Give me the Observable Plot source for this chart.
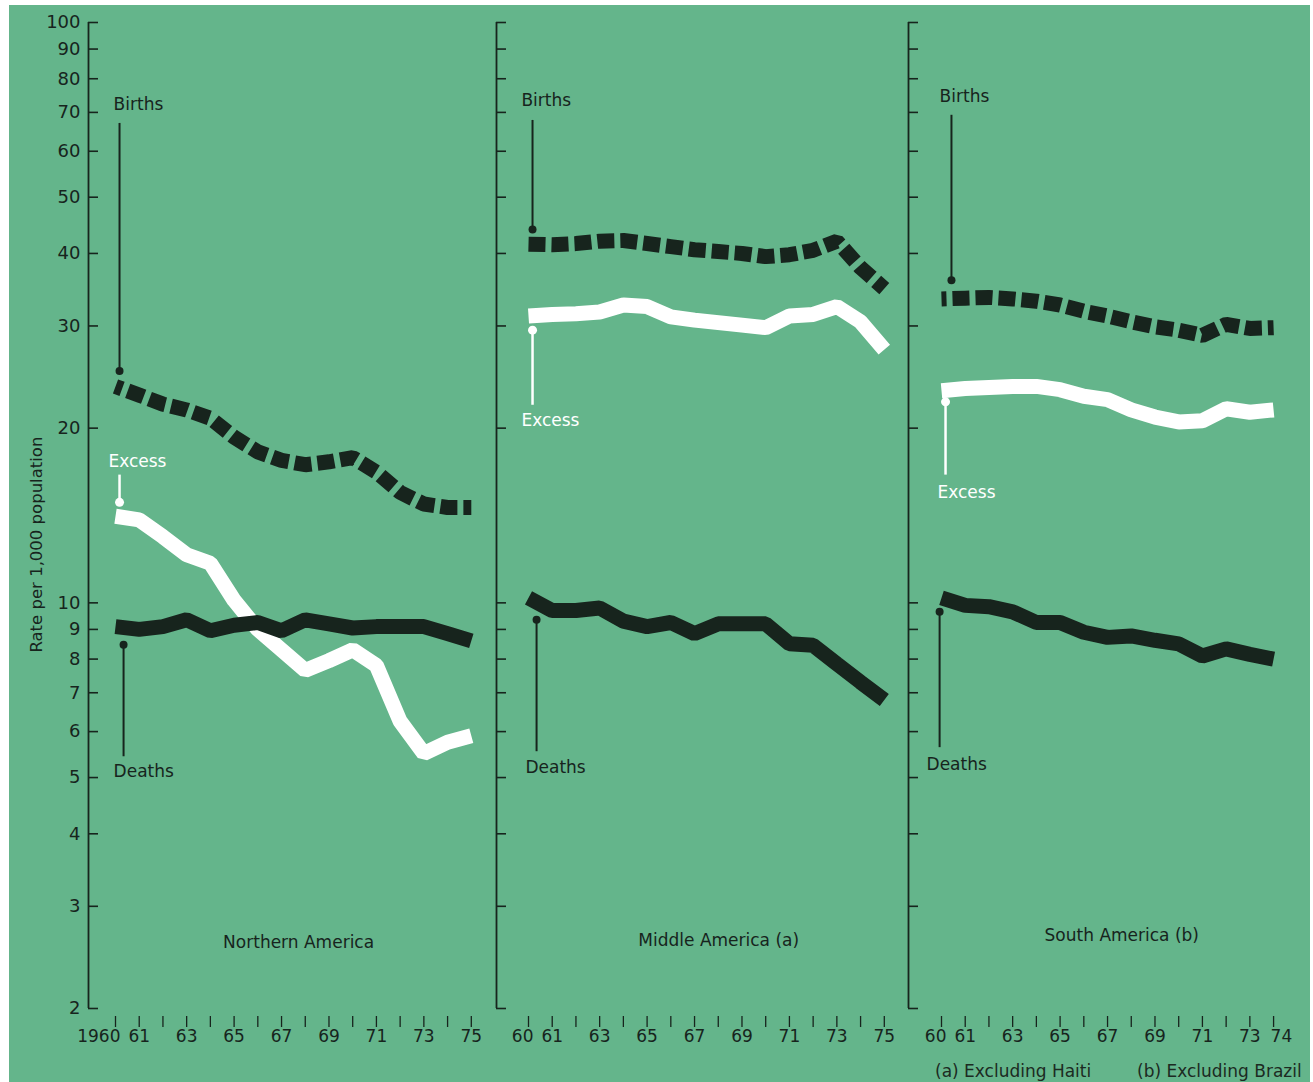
<!DOCTYPE html>
<html>
<head>
<meta charset="utf-8">
<script src="https://cdn.jsdelivr.net/npm/d3@7"></script>
<script src="https://cdn.jsdelivr.net/npm/@observablehq/plot@0.6"></script>
<style>
  html, body { margin: 0; padding: 0; background: #ffffff; }
  #wrap { position: relative; width: 1313px; height: 1082px; overflow: hidden; background: #ffffff;
          font-family: "DejaVu Sans", sans-serif; }
  #bg { position: absolute; left: 9px; top: 5px; width: 1301px; height: 1077px; background: #64b58b; }
  .panel { position: absolute; top: 0; }
  .note { position: absolute; top: 1061px; font-size: 17px; line-height: 20px; color: #1c2a22; white-space: nowrap; }
</style>
</head>
<body>
<div id="wrap">
  <div id="bg"></div>
  <div id="p0" class="panel"></div>
  <div id="p1" class="panel"></div>
  <div id="p2" class="panel"></div>
  <div id="n0" class="note" style="left:935px"></div>
  <div id="n1" class="note" style="left:1137px"></div>
</div>
<script>
// ---------------- DATA ----------------
const regions = ["Northern America", "Middle America (a)", "South America (b)"];
const seriesNames = ["Births", "Excess", "Deaths"];
const yTitle = "Rate per 1,000 population";
const notes = ["(a) Excluding Haiti", "(b) Excluding Brazil"];
const yTicks = [2, 3, 4, 5, 6, 7, 8, 9, 10, 20, 30, 40, 50, 60, 70, 80, 90, 100];
const yTickLabels = ["2", "3", "4", "5", "6", "7", "8", "9", "10", "20", "30", "40", "50", "60", "70", "80", "90", "100"];

const yearsNA = [1960, 1961, 1962, 1963, 1964, 1965, 1966, 1967, 1968, 1969, 1970, 1971, 1972, 1973, 1974, 1975];
const birthsNA = [23.6, 22.8, 22.0, 21.5, 20.8, 19.3, 18.2, 17.6, 17.3, 17.5, 17.8, 16.8, 15.5, 14.8, 14.6, 14.6];
const excessNA = [14.1, 13.9, 13.0, 12.1, 11.7, 10.1, 9.0, 8.3, 7.65, 7.95, 8.3, 7.8, 6.25, 5.5, 5.75, 5.9];
const deathsNA = [9.1, 9.0, 9.1, 9.35, 8.95, 9.15, 9.25, 8.95, 9.35, 9.2, 9.05, 9.1, 9.1, 9.1, 8.85, 8.6];
const xLabelsNA = ["1960", "61", "", "63", "", "65", "", "67", "", "69", "", "71", "", "73", "", "75"];

const yearsMA = [1960, 1961, 1962, 1963, 1964, 1965, 1966, 1967, 1968, 1969, 1970, 1971, 1972, 1973, 1974, 1975];
const birthsMA = [41.5, 41.4, 41.6, 42.0, 42.1, 41.6, 41.1, 40.6, 40.3, 40.0, 39.5, 39.8, 40.5, 42.0, 37.8, 34.8];
const excessMA = [31.2, 31.4, 31.5, 31.7, 32.6, 32.4, 31.1, 30.7, 30.4, 30.1, 29.8, 31.2, 31.4, 32.4, 30.5, 27.3];
const deathsMA = [10.2, 9.7, 9.7, 9.8, 9.3, 9.1, 9.25, 8.85, 9.2, 9.2, 9.2, 8.5, 8.45, 7.85, 7.3, 6.8];
const xLabelsMA = ["60", "61", "", "63", "", "65", "", "67", "", "69", "", "71", "", "73", "", "75"];

const yearsSA = [1960, 1961, 1962, 1963, 1964, 1965, 1966, 1967, 1968, 1969, 1970, 1971, 1972, 1973, 1974];
const birthsSA = [33.4, 33.5, 33.6, 33.4, 33.1, 32.6, 31.8, 31.2, 30.5, 29.9, 29.5, 28.9, 30.2, 29.7, 29.8];
const excessSA = [23.2, 23.4, 23.5, 23.6, 23.6, 23.3, 22.7, 22.4, 21.5, 20.9, 20.5, 20.6, 21.6, 21.3, 21.5];
const deathsSA = [10.2, 9.9, 9.85, 9.65, 9.25, 9.25, 8.9, 8.72, 8.77, 8.62, 8.5, 8.1, 8.33, 8.15, 8.0];
const xLabelsSA = ["60", "61", "", "63", "", "65", "", "67", "", "69", "", "71", "", "73", "74"];

// label anchors, in data units (year, rate)
const textAnchorsNA = [[1959.92, 72.3], [1959.70, 17.5], [1959.92, 5.12]];
const pointersNA = [[1960.17, 25.1, 67.0], [1960.17, 14.9, 16.6], [1960.34, 8.47, 5.43]];
const titleAnchorNA = [1967.72, 2.60];
const textAnchorsMA = [[1959.70, 73.4], [1959.70, 20.6], [1959.87, 5.2]];
const pointersMA = [[1960.17, 44.0, 67.8], [1960.17, 29.5, 21.9], [1960.34, 9.35, 5.54]];
const titleAnchorMA = [1968.02, 2.62];
const textAnchorsSA = [[1959.92, 74.6], [1959.83, 15.5], [1959.37, 5.26]];
const pointersSA = [[1960.42, 35.97, 69.2], [1960.17, 22.2, 16.6], [1959.92, 9.65, 5.63]];
const titleAnchorSA = [1967.6, 2.67];

// ---------------- DRAWING ----------------
const ink = "#17241d";
const seriesColor = [ink, "#ffffff", ink];
const slope = 23.72; // px per year

const panels = [
  {el: "p0", left: 0, width: 490, marginLeft: 88, x60: 115, dashOffset: 10, labels: true, lastStart: false,
   years: yearsNA, births: birthsNA, excess: excessNA, deaths: deathsNA, xLabels: xLabelsNA,
   texts: textAnchorsNA, ptrs: pointersNA, title: titleAnchorNA},
  {el: "p1", left: 486, width: 412, marginLeft: 10, x60: 528, dashOffset: 0, labels: false, lastStart: false,
   years: yearsMA, births: birthsMA, excess: excessMA, deaths: deathsMA, xLabels: xLabelsMA,
   texts: textAnchorsMA, ptrs: pointersMA, title: titleAnchorMA},
  {el: "p2", left: 898, width: 415, marginLeft: 10, x60: 941, dashOffset: 12, labels: false, lastStart: true,
   years: yearsSA, births: birthsSA, excess: excessSA, deaths: deathsSA, xLabels: xLabelsSA,
   texts: textAnchorsSA, ptrs: pointersSA, title: titleAnchorSA}
];

panels.forEach((p, k) => {
  const frameL = p.left + p.marginLeft;
  const frameR = p.left + p.width;
  const d0 = 1960 - (p.x60 - frameL) / slope;
  const d1 = 1960 + (frameR - p.x60) / slope;
  const tickLen = 10 / slope;
  const n = p.years.length;

  const rows = (vals) => p.years.map((year, i) => ({year, value: vals[i]}));
  const ticks = p.years.map((year, i) => ({year, label: p.xLabels[i], idx: i}));
  const firstTick = ticks.filter(d => d.idx === 0);
  const lastTick = ticks.filter(d => p.lastStart && d.idx === n - 1);
  const midTicks = ticks.filter(d => d.idx !== 0 && !(p.lastStart && d.idx === n - 1));

  const txt = seriesNames.map((name, i) => ({name, x: p.texts[i][0], y: p.texts[i][1], color: seriesColor[i]}));
  const ptr = seriesNames.map((name, i) => ({name, x: p.ptrs[i][0], dot: p.ptrs[i][1], end: p.ptrs[i][2], color: seriesColor[i]}));
  const isWhite = d => d.color === "#ffffff";
  const isInk = d => d.color !== "#ffffff";
  const lineOpts = {x: "year", y: "value", strokeWidth: 15, strokeLinejoin: "miter", strokeLinecap: "butt"};

  const marks = [
    // axis line and inward ticks
    Plot.ruleX([d0], {x: d => d, y1: 2, y2: 100, stroke: ink, strokeWidth: 1.8}),
    Plot.ruleY(yTicks, {y: d => d, x1: d0, x2: d0 + tickLen, stroke: ink, strokeWidth: 1.6}),
    // x axis: a tick every year
    Plot.axisX({ticks: p.years, tickSize: 11, dy: 8, tickFormat: () => "", strokeWidth: 1.3}),
    // x tick labels
    Plot.text(midTicks, {x: "year", text: "label", frameAnchor: "bottom", dy: 33, fontSize: 17, fill: ink}),
    Plot.text(firstTick, {x: "year", text: "label", frameAnchor: "bottom", textAnchor: "end", dx: 5, dy: 33,
                          fontSize: 17, fill: ink}),
    Plot.text(lastTick, {x: "year", text: "label", frameAnchor: "bottom", textAnchor: "start", dx: -3, dy: 33,
                         fontSize: 17, fill: ink}),
    // series lines
    Plot.line(rows(p.excess), {...lineOpts, stroke: "#ffffff"}),
    Plot.line(rows(p.deaths), {...lineOpts, stroke: ink}),
    Plot.line(rows(p.births), {...lineOpts, stroke: ink, strokeDasharray: "17,6", strokeDashoffset: p.dashOffset}),
    // annotation pointers
    Plot.ruleX(ptr.filter(isInk), {x: "x", y1: "dot", y2: "end", stroke: ink, strokeWidth: 2}),
    Plot.ruleX(ptr.filter(isWhite), {x: "x", y1: "dot", y2: "end", stroke: "#ffffff", strokeWidth: 2.5}),
    Plot.dot(ptr.filter(isInk), {x: "x", y: "dot", r: 4, fill: ink, stroke: null}),
    Plot.dot(ptr.filter(isWhite), {x: "x", y: "dot", r: 4.5, fill: "#ffffff", stroke: null}),
    Plot.text(txt.filter(isInk), {x: "x", y: "y", text: "name", textAnchor: "start", fontSize: 17, fill: ink}),
    Plot.text(txt.filter(isWhite), {x: "x", y: "y", text: "name", textAnchor: "start", fontSize: 17, fill: "#ffffff"}),
    // region title
    Plot.text([regions[k]], {x: () => p.title[0], y: () => p.title[1], text: d => d, fontSize: 17, fill: ink})
  ];

  if (p.labels) {
    marks.push(Plot.text(yTicks, {x: () => d0, y: d => d, text: (d, i) => yTickLabels[i],
                                  textAnchor: "end", dx: -8, fontSize: 18, fill: ink}));
    marks.push(Plot.text([yTitle], {x: () => d0, y: () => 12.6, text: d => d, dx: -52, rotate: -90,
                                    fontSize: 16.5, fill: ink}));
  }

  const chart = Plot.plot({
    width: p.width,
    height: 1082,
    marginLeft: p.marginLeft,
    marginRight: 0,
    marginTop: 22,
    marginBottom: 74,
    style: {background: "transparent", color: ink, fontFamily: "DejaVu Sans, sans-serif", overflow: "visible"},
    x: {domain: [d0, d1], axis: null},
    y: {type: "log", domain: [2, 100], axis: null},
    marks
  });
  const host = document.getElementById(p.el);
  host.style.left = p.left + "px";
  host.appendChild(chart);
});

document.getElementById("n0").textContent = notes[0];
document.getElementById("n1").textContent = notes[1];
</script>
</body>
</html>
